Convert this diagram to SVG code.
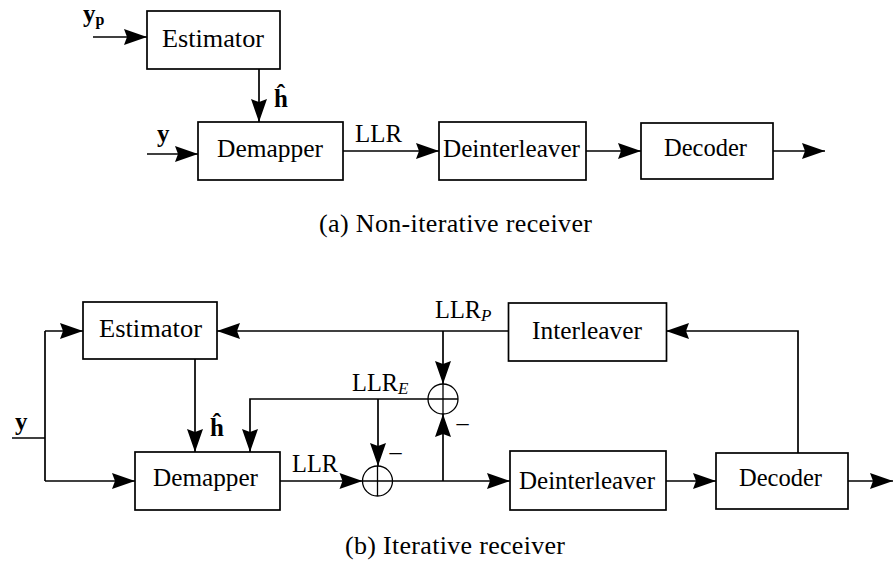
<svg xmlns="http://www.w3.org/2000/svg" width="894" height="565" viewBox="0 0 894 565">
<defs>
<style>
.box{fill:#fff;stroke:#000;stroke-width:1.7}
.ln{fill:none;stroke:#000;stroke-width:1.7}
.arr{marker-end:url(#ah)}
.sum{fill:#fff;stroke:#000;stroke-width:1.3}
.t{font-family:"Liberation Serif","DejaVu Serif",serif;font-size:25px;fill:#000}
.b{font-weight:bold}
.cap{font-family:"Liberation Serif","Times New Roman",serif;font-size:26px;fill:#000}
</style>
<marker id="ah" markerUnits="userSpaceOnUse" markerWidth="28" markerHeight="20" viewBox="-26 -10 28 20" refX="0" refY="0" orient="auto">
<path d="M0,0 L-23,-8 L-20,0 L-23,8 Z" fill="#000"/>
</marker>
</defs>
<rect width="894" height="565" fill="#fff"/>

<g id="a-connectors">
<path class="ln arr" d="M93,37 H147"/>
<path class="ln arr" d="M259,69 V122"/>
<path class="ln arr" d="M147,154 H198"/>
<path class="ln arr" d="M343,151 H439"/>
<path class="ln arr" d="M586,151 H641"/>
<path class="ln arr" d="M773,151 H825"/>
<text class="t b" x="83" y="22">y<tspan font-size="16" dy="3">p</tspan></text>
<text class="t b" x="274" y="107">ĥ</text>
<text class="t b" x="157" y="142">y</text>
<text class="t" x="355" y="142" textLength="47" lengthAdjust="spacingAndGlyphs">LLR</text>
</g>

<g id="a-estimator"><rect class="box" x="147" y="11" width="133" height="58"/><text class="t" x="162" y="47" textLength="102" lengthAdjust="spacingAndGlyphs">Estimator</text></g>
<g id="a-demapper"><rect class="box" x="198" y="122" width="145" height="58"/><text class="t" x="217" y="157" textLength="106" lengthAdjust="spacingAndGlyphs">Demapper</text></g>
<g id="a-deinterleaver"><rect class="box" x="439" y="122" width="147" height="58"/><text class="t" x="443" y="157" textLength="137" lengthAdjust="spacingAndGlyphs">Deinterleaver</text></g>
<g id="a-decoder"><rect class="box" x="641" y="123" width="132" height="56"/><text class="t" x="664" y="156" textLength="83" lengthAdjust="spacingAndGlyphs">Decoder</text></g>

<text class="cap" x="319" y="232" textLength="273" lengthAdjust="spacing">(a) Non-iterative receiver</text>

<g id="b-connectors">
<path class="ln" d="M12,438 H45"/>
<path class="ln" d="M45,331 V481"/>
<path class="ln arr" d="M45,331 H83"/>
<path class="ln arr" d="M45,481 H135"/>
<path class="ln arr" d="M195,359 V452"/>
<path class="ln arr" d="M508,331 H217"/>
<path class="ln arr" d="M443,331 V384"/>
<path class="ln arr" d="M428,399 H250 V452"/>
<path class="ln arr" d="M378,399 V466"/>
<path class="ln arr" d="M280,481 H362.5"/>
<path class="ln arr" d="M392.5,481 H510"/>
<path class="ln arr" d="M443,481 V414"/>
<path class="ln arr" d="M666,481 H716"/>
<path class="ln arr" d="M848,481 H893"/>
<path class="ln arr" d="M798,453 V331 H666"/>
<text class="t b" x="15" y="430">y</text>
<text class="t b" x="210" y="436">ĥ</text>
<text class="t" x="292" y="472" textLength="46" lengthAdjust="spacingAndGlyphs">LLR</text>
<text class="t" x="352" y="391"><tspan textLength="46" lengthAdjust="spacingAndGlyphs">LLR</tspan><tspan font-size="17" font-style="italic" dy="3">E</tspan></text>
<text class="t" x="435" y="318"><tspan textLength="46" lengthAdjust="spacingAndGlyphs">LLR</tspan><tspan font-size="17" font-style="italic" dy="3">P</tspan></text>
<text class="t" x="388" y="462" textLength="15" lengthAdjust="spacingAndGlyphs">−</text>
<text class="t" x="455" y="433" textLength="15" lengthAdjust="spacingAndGlyphs">−</text>
</g>

<g id="b-estimator"><rect class="box" x="83" y="302" width="134" height="57"/><text class="t" x="99" y="337" textLength="103" lengthAdjust="spacingAndGlyphs">Estimator</text></g>
<g id="b-interleaver"><rect class="box" x="508.5" y="303" width="158" height="58"/><text class="t" x="532" y="339" textLength="110" lengthAdjust="spacingAndGlyphs">Interleaver</text></g>
<g id="b-demapper"><rect class="box" x="135" y="452" width="145" height="58"/><text class="t" x="153" y="486" textLength="105" lengthAdjust="spacingAndGlyphs">Demapper</text></g>
<g id="b-deinterleaver"><rect class="box" x="510" y="451" width="156" height="59"/><text class="t" x="519" y="489" textLength="136" lengthAdjust="spacingAndGlyphs">Deinterleaver</text></g>
<g id="b-decoder"><rect class="box" x="716" y="453" width="132" height="56"/><text class="t" x="739" y="486" textLength="83" lengthAdjust="spacingAndGlyphs">Decoder</text></g>
<g id="b-sum-top"><circle class="sum" cx="443" cy="399" r="15"/><path class="sum" d="M428,399 H458 M443,384 V414"/></g>
<g id="b-sum-bottom"><circle class="sum" cx="377.5" cy="481" r="15"/><path class="sum" d="M362.5,481 H392.5 M377.5,466 V496"/></g>

<text class="cap" x="345" y="554" textLength="220" lengthAdjust="spacing">(b) Iterative receiver</text>
</svg>
